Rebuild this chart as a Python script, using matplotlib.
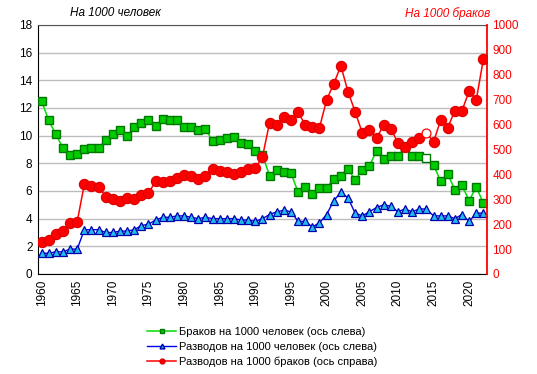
import matplotlib.pyplot as plt
from matplotlib.lines import Line2D

plt.rcParams['font.family'] = ['Liberation Sans', 'DejaVu Sans']

years = list(range(1960, 2023))

# marriages per 1000 people (left axis)
marriages = [12.5, 11.1, 10.1, 9.1, 8.6, 8.7, 9.0, 9.1, 9.1, 9.7,
             10.1, 10.4, 10.0, 10.6, 10.9, 11.1, 10.7, 11.2, 11.1, 11.1,
             10.6, 10.6, 10.4, 10.5, 9.6, 9.7, 9.8, 9.9, 9.5, 9.4,
             8.9, 8.6, 7.1, 7.5, 7.4, 7.3, 5.9, 6.3, 5.8, 6.2,
             6.2, 6.9, 7.1, 7.6, 6.8, 7.5, 7.8, 8.9, 8.3, 8.5,
             8.5, 9.2, 8.5, 8.5, 8.4, 7.9, 6.7, 7.2, 6.1, 6.4,
             5.3, 6.3, 5.1]

# divorces per 1000 people (left axis)
divorces = [1.5, 1.5, 1.6, 1.6, 1.8, 1.8, 3.2, 3.2, 3.2, 3.0,
            3.0, 3.1, 3.1, 3.2, 3.5, 3.6, 3.9, 4.1, 4.1, 4.2,
            4.2, 4.1, 4.0, 4.1, 4.0, 4.0, 4.0, 4.0, 3.9, 3.9,
            3.8, 4.0, 4.3, 4.5, 4.6, 4.5, 3.8, 3.8, 3.4, 3.7,
            4.3, 5.3, 5.9, 5.5, 4.4, 4.2, 4.5, 4.8, 5.0, 4.9,
            4.5, 4.7, 4.5, 4.7, 4.7, 4.2, 4.2, 4.2, 4.0, 4.3,
            3.8, 4.4, 4.4]

# divorces per 1000 marriages (right axis)
div_per_marr = [127, 137, 161, 174, 206, 210, 361, 353, 351, 311,
                303, 295, 307, 303, 317, 324, 373, 369, 375, 387,
                398, 394, 382, 395, 420, 415, 411, 402, 410, 423,
                426, 471, 608, 597, 629, 618, 651, 598, 592, 588,
                699, 764, 836, 732, 652, 567, 578, 545, 598, 584,
                527, 511, 529, 545, 567, 530, 618, 588, 656, 656,
                735, 699, 863]

hollow_year = 2014
hi = years.index(hollow_year)
filled = [i for i in range(len(years)) if i != hi]

fig = plt.figure(figsize=(5.37, 3.74), dpi=100)
ax = fig.add_axes([0.0708, 0.2674, 0.836, 0.6658])
ax2 = ax.twinx()

green_line = '#00DD00'
green_face = '#00CC00'
green_edge = '#007700'
blue_line = '#0000EE'
blue_face = '#22BBEE'
blue_edge = '#0000AA'
red_c = '#FF0000'
red_edge = '#DD0000'

ax.plot(years, marriages, color=green_line, lw=1.1, marker='s', ms=6.4,
        mfc=green_face, mec=green_edge, mew=1.0, markevery=filled, zorder=3)
ax.plot(years[hi], marriages[hi], marker='s', ms=6.0, mfc='white',
        mec=green_edge, mew=1.0, ls='none', zorder=3)
ax.plot(years, divorces, color=blue_line, lw=1.0, marker='^', ms=6.0,
        mfc=blue_face, mec=blue_edge, mew=0.9, zorder=3)

ax2.plot(years, div_per_marr, color=red_c, lw=1.1, marker='o', ms=7.4,
         mfc=red_c, mec=red_edge, mew=0.8, markevery=filled, zorder=3)
ax2.plot(years[hi], div_per_marr[hi], marker='o', ms=6.4, mfc='white',
         mec=red_c, mew=0.9, ls='none', zorder=3)

ax.set_xlim(1959.5, 2022.5)
ax.set_ylim(0, 18)
ax.set_yticks(range(0, 19, 2))
ax2.set_ylim(0, 1000)
ax2.set_yticks(range(0, 1001, 100))
ax.set_xticks(range(1960, 2021, 5))
ax.set_xticklabels([str(y) for y in range(1960, 2021, 5)], rotation=90)

ax.grid(axis='y', color='#BDBDBD', lw=1.0)
ax.set_axisbelow(True)

ax.tick_params(axis='both', length=0, labelsize=8.5, colors='black', pad=4)
ax2.tick_params(axis='y', length=0, labelsize=8.5, labelcolor=red_c, pad=4)

for s in ['left', 'bottom']:
    ax.spines[s].set_color('black')
ax.spines['top'].set_color('#555555')
ax2.spines['right'].set_color(red_c)
ax2.spines['right'].set_linewidth(1.3)
ax2.spines['top'].set_visible(False)
ax2.spines['left'].set_visible(False)
ax2.spines['bottom'].set_visible(False)
ax.spines['right'].set_visible(False)

fig.text(0.13, 0.965, 'На 1000 человек', style='italic', fontsize=8.5,
         color='black', ha='left', va='center')
fig.text(0.913, 0.965, 'На 1000 браков', style='italic', fontsize=8.5,
         color=red_c, ha='right', va='center')

handles = [
    Line2D([], [], color=green_line, lw=1.1, marker='s', ms=3.5,
           mfc=green_face, mec=green_edge),
    Line2D([], [], color=blue_line, lw=1.0, marker='^', ms=3.5,
           mfc=blue_face, mec=blue_edge),
    Line2D([], [], color=red_c, lw=1.1, marker='o', ms=3.5,
           mfc=red_c, mec=red_edge),
]
labels = ['Браков на 1000 человек (ось слева)',
          'Разводов на 1000 человек (ось слева)',
          'Разводов на 1000 браков (ось справа)']
fig.legend(handles, labels, loc='upper left', bbox_to_anchor=(0.274, 0.126),
           frameon=False, fontsize=8, handlelength=2.6, handletextpad=0.3,
           labelspacing=0.42, borderpad=0, borderaxespad=0)

fig.savefig('out.png', dpi=100)
